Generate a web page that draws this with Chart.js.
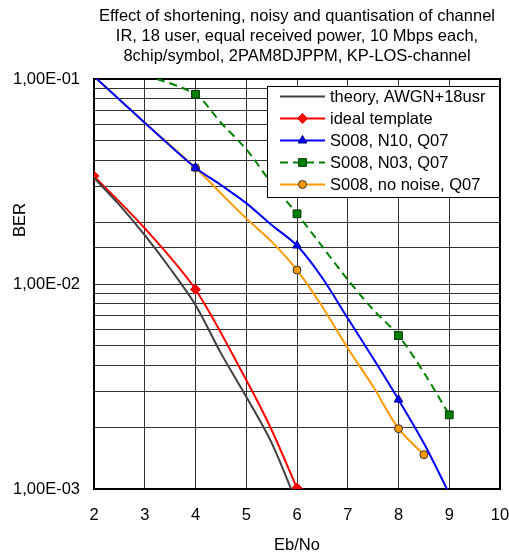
<!DOCTYPE html>
<html>
<head>
<meta charset="utf-8">
<script src="https://cdn.jsdelivr.net/npm/chart.js@4.4.1/dist/chart.umd.min.js"></script>
<style>
  html, body { margin: 0; padding: 0; background: #fff; }
</style>
</head>
<body>
<canvas id="berChart" width="509" height="557"></canvas>
<script>
// Text
const titleLines = [
  "Effect of shortening, noisy and quantisation of channel",
  "IR, 18 user, equal received power, 10 Mbps each,",
  "8chip/symbol, 2PAM8DJPPM, KP-LOS-channel",
];
const xTitle = "Eb/No";
const yTitle = "BER";
const xTicks = [2, 3, 4, 5, 6, 7, 8, 9, 10];
const yTickValues = [0.001, 0.01, 0.1];
const yTickLabels = ["1,00E-03", "1,00E-02", "1,00E-01"];
const seriesNames = [
  "theory, AWGN+18usr",
  "ideal template",
  "S008, N10, Q07",
  "S008, N03, Q07",
  "S008, no noise, Q07",
];

// Series (Eb/No, BER); markers only where the original shows them
const theoryX = [2, 2.5, 3, 3.5, 4, 4.5, 5, 5.5, 6];
const theoryBER = [0.033, 0.0243, 0.0173, 0.0119, 0.0079, 0.0046, 0.00282, 0.00168, 0.00085];
const theoryMarkX = [];

const idealX = [2, 3, 4, 5, 5.5, 6];
const idealBER = [0.0336, 0.0187, 0.0094, 0.0034, 0.00194, 0.00101];
const idealMarkX = [2, 4, 6];

const n10X = [2, 3, 4, 4.5, 5, 5.5, 6, 6.5, 7, 7.5, 8, 8.5, 9];
const n10BER = [0.103, 0.0612, 0.0369, 0.0304, 0.0248, 0.0194, 0.0154, 0.0107, 0.0068, 0.00434, 0.00273, 0.00167, 0.00095];
const n10MarkX = [4, 6, 8];

const n03X = [3, 4, 4.5, 5, 5.5, 6, 6.5, 7, 7.5, 8, 8.5, 9];
const n03BER = [0.105, 0.0842, 0.0612, 0.0454, 0.031, 0.022, 0.0152, 0.0105, 0.0075, 0.0056, 0.0037, 0.0023];
const n03MarkX = [4, 6, 8, 9];

const noNoiseX = [2, 3, 4, 4.5, 5, 5.5, 6, 6.5, 7, 7.5, 8, 8.5];
const noNoiseBER = [0.103, 0.0612, 0.0369, 0.0277, 0.0209, 0.0161, 0.0117, 0.00775, 0.00486, 0.00316, 0.00197, 0.00147];
const noNoiseMarkX = [4, 6, 8, 8.5];

const FONT = "'Liberation Sans', Arial, sans-serif";
const FS = 16.5;

function series(name, xs, ys, marks, style) {
  return Object.assign({
    label: name,
    data: xs.map((x, i) => ({ x: x, y: ys[i] })),
    tension: 0.3,
    fill: false,
    borderWidth: 2,
    pointBorderWidth: 1,
    pointRadius: (c) => (c.raw && marks.includes(c.raw.x) ? style.markSize : 0),
    pointHoverRadius: 0,
  }, style);
}

const datasets = [
  series(seriesNames[0], theoryX, theoryBER, theoryMarkX, {
    borderColor: "#404040", pointStyle: false, markSize: 0,
  }),
  series(seriesNames[1], idealX, idealBER, idealMarkX, {
    borderColor: "#ff0000", backgroundColor: "#ff0000", pointBorderColor: "#ff0000",
    pointStyle: "rectRot", markSize: 5,
  }),
  series(seriesNames[2], n10X, n10BER, n10MarkX, {
    borderColor: "#0000ff", backgroundColor: "#0000ff", pointBorderColor: "#000080",
    pointStyle: "triangle", markSize: 5,
  }),
  series(seriesNames[3], n03X, n03BER, n03MarkX, {
    borderColor: "#008000", backgroundColor: "#008000", pointBorderColor: "#003300",
    borderDash: [8, 5], pointStyle: "rect", markSize: 5.5,
  }),
  series(seriesNames[4], noNoiseX, noNoiseBER, noNoiseMarkX, {
    borderColor: "#ff9900", backgroundColor: "#ff9900", pointBorderColor: "#333333",
    pointStyle: "circle", markSize: 4,
  }),
];

function drawMarker(ctx, style, x, y, r) {
  ctx.beginPath();
  if (style === "circle") {
    ctx.arc(x, y, r, 0, Math.PI * 2);
  } else if (style === "rect") {
    const s = r * Math.SQRT1_2;
    ctx.rect(x - s, y - s, 2 * s, 2 * s);
  } else if (style === "rectRot") {
    ctx.moveTo(x, y - r); ctx.lineTo(x + r, y); ctx.lineTo(x, y + r); ctx.lineTo(x - r, y);
  } else if (style === "triangle") {
    const w = r * Math.sqrt(3) / 2;
    ctx.moveTo(x, y - r); ctx.lineTo(x + w, y + r / 2); ctx.lineTo(x - w, y + r / 2);
  } else {
    return;
  }
  ctx.closePath();
  ctx.fill();
  ctx.stroke();
}

// plot frame (all four sides) + the BER label, which sits above the middle in the original
const framePlugin = {
  id: "frame",
  beforeDatasetsDraw(chart) {
    const a = chart.chartArea, ctx = chart.ctx;
    ctx.save();
    ctx.strokeStyle = "#000";
    ctx.lineWidth = 2;
    ctx.strokeRect(a.left, a.top, a.right - a.left, a.bottom - a.top);
    ctx.translate(20, 220);
    ctx.rotate(-Math.PI / 2);
    ctx.fillStyle = "#000";
    ctx.font = FS + "px " + FONT;
    ctx.textAlign = "center";
    ctx.textBaseline = "middle";
    ctx.fillText(yTitle, 0, 0);
    ctx.restore();
  },
};

// boxed legend inside the plot, top right
const boxLegend = {
  id: "boxLegend",
  afterDraw(chart) {
    const ctx = chart.ctx;
    const bx = 267.5, by = 86.5, bw = 232, bh = 111;
    ctx.save();
    ctx.fillStyle = "#fff";
    ctx.fillRect(bx, by, bw, bh);
    ctx.strokeStyle = "#000";
    ctx.lineWidth = 1;
    ctx.strokeRect(bx, by, bw, bh);
    ctx.font = FS + "px " + FONT;
    ctx.textBaseline = "middle";
    chart.data.datasets.forEach((ds, i) => {
      const y = 96.5 + i * 22;
      ctx.setLineDash(ds.borderDash || []);
      ctx.strokeStyle = ds.borderColor;
      ctx.lineWidth = 2;
      ctx.beginPath();
      ctx.moveTo(280, y);
      ctx.lineTo(325, y);
      ctx.stroke();
      ctx.setLineDash([]);
      if (ds.pointStyle) {
        ctx.fillStyle = ds.backgroundColor;
        ctx.strokeStyle = ds.pointBorderColor;
        ctx.lineWidth = 1;
        drawMarker(ctx, ds.pointStyle, 302.5, y, ds.markSize);
      }
      ctx.fillStyle = "#000";
      ctx.fillText(ds.label, 330, y + 1);
    });
    ctx.restore();
  },
};

new Chart(document.getElementById("berChart"), {
  type: "line",
  data: { datasets: datasets },
  plugins: [framePlugin, boxLegend],
  options: {
    responsive: false,
    animation: false,
    devicePixelRatio: 1,
    layout: { padding: { top: 0, right: 9, bottom: 0, left: 0 } },
    plugins: {
      legend: { display: false },
      tooltip: { enabled: false },
      title: {
        display: true,
        text: titleLines,
        fullSize: false,
        color: "#000",
        font: { family: FONT, size: FS, weight: "normal", lineHeight: 20 / FS },
        padding: { top: 6, bottom: 13 },
      },
    },
    scales: {
      x: {
        type: "linear",
        min: 2,
        max: 10,
        afterBuildTicks: (s) => { s.ticks = xTicks.map((v) => ({ value: v })); },
        afterFit: (s) => { s.height = 68; s.paddingLeft = 0; s.paddingRight = 0; },
        ticks: { color: "#000", font: { family: FONT, size: FS }, padding: 17, maxRotation: 0 },
        grid: { color: "#333", lineWidth: 1, drawTicks: false },
        border: { display: false },
        title: {
          display: true, text: xTitle, color: "#000",
          font: { family: FONT, size: FS }, padding: { top: 0, bottom: 2 },
        },
      },
      y: {
        type: "logarithmic",
        min: 0.001,
        max: 0.1,
        afterFit: (s) => { s.width = 94; },
        ticks: {
          color: "#000",
          font: { family: FONT, size: FS },
          padding: 14,
          autoSkip: false,
          callback: (v) => {
            const i = yTickValues.findIndex((t) => Math.abs(t - v) < t * 1e-6);
            return i >= 0 ? yTickLabels[i] : "";
          },
        },
        grid: { color: "#333", lineWidth: 1, drawTicks: false },
        border: { display: false },
      },
    },
  },
});
</script>
</body>
</html>
